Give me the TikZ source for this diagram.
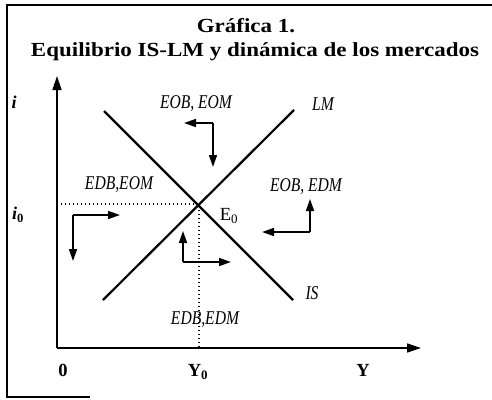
\documentclass[tikz,border=0pt]{standalone}
\usepackage{fontspec}
\setmainfont{Liberation Serif}
\newfontfamily\angosta[FakeStretch=0.8]{Liberation Serif}
\newfontfamily\ancha[FakeStretch=1.15]{Liberation Serif}
\usepackage{tikz}
\usetikzlibrary{arrows.meta}

\tikzset{
  etiq/.style={font=\angosta\fontsize{19.5}{22}\selectfont\itshape, inner sep=0pt},
  rotulo/.style={font=\fontsize{18.5}{21}\selectfont, inner sep=0pt},
  titulo/.style={font=\ancha\fontsize{20}{23}\selectfont\bfseries, inner sep=0pt},
  eje/.style={line width=1.6pt, -{Triangle[length=14pt,width=9pt]}},
  curva/.style={line width=2.2pt},
  flecha/.style={line width=1.6pt, -{Triangle[length=12pt,width=8pt]}},
  guia/.style={line width=1.3pt, dash pattern=on 1.3pt off 2.7pt},
}

\begin{document}
\begin{tikzpicture}[x=1pt,y=-1pt]
				\useasboundingbox (0,0) rectangle (492,399);
				% Marco
				\draw[line width=1.2pt] (90,397) -- (7,397) -- (7,5) -- (492,5);
				
				% Titulo
				\node[titulo] (tit1) at (246,26) {Gráfica 1.};
				\node[titulo] (tit2) at (255,52) {Equilibrio IS-LM y dinámica de los mercados};
				
				% Ejes
				\coordinate (orig) at (57,348);
				\coordinate (ytop) at (57,76);
				\coordinate (xfin) at (421,348);
				\draw[eje] (orig) -- (ytop);
				\draw[eje] (orig) -- (xfin);
				
				% Curvas IS y LM
				\coordinate (eq) at (199,204);
				\coordinate (lmA) at (103,300);
				\coordinate (lmB) at (294,110);
				\coordinate (isA) at (104,111);
				\coordinate (isB) at (293,300);
				\draw[curva] (lmA) -- (lmB);
				\draw[curva] (isA) -- (isB);
				
				% Lineas de equilibrio
				\draw[guia] (orig |- eq) -- (eq) -- (eq |- orig);
				
				% Etiquetas de ejes
				\node[rotulo, font=\fontsize{18}{20}\selectfont\bfseries\itshape] (ii) at (14,102) {i};
				\node[rotulo, font=\fontsize{18}{20}\selectfont\bfseries\itshape] (ii0) at (18,215) {i\textsubscript{\upshape 0}};
				\node[rotulo, font=\fontsize{18.5}{21}\selectfont\bfseries] (cero) at (63,370) {0};
				\node[rotulo, font=\fontsize{18.5}{21}\selectfont\bfseries] (yy0) at (198,372) {Y\textsubscript{0}};
				\node[rotulo, font=\fontsize{18.5}{21}\selectfont\bfseries] (yy) at (363,370) {Y};
				
				% Etiquetas de curvas y zonas
				\node[etiq] (lm) at (323,104) {LM};
				\node[etiq] (is) at (312,293) {IS};
				\node[rotulo] (e0) at (229,216) {E\textsubscript{0}};
				\node[etiq] (z1) at (196,104) {EOB, EOM};
				\node[etiq] (z2) at (119,185) {EDB,EOM};
				\node[etiq] (z3) at (306,187) {EOB, EDM};
				\node[etiq] (z4) at (205,320) {EDB,EDM};
				
				% Flechas de ajuste
				\coordinate (c1) at (213,123);
				\coordinate (c1h) at (184,123);
				\coordinate (c1v) at (213,167);
				\draw[flecha] (c1) -- (c1h);
				\draw[flecha] (c1) -- (c1v);
				
				\coordinate (c2) at (73,215);
				\coordinate (c2h) at (120,215);
				\coordinate (c2v) at (73,261);
				\draw[flecha] (c2) -- (c2h);
				\draw[flecha] (c2) -- (c2v);
				
				\coordinate (c3) at (183,262);
				\coordinate (c3h) at (231,262);
				\coordinate (c3v) at (183,231);
				\draw[flecha] (c3) -- (c3h);
				\draw[flecha] (c3) -- (c3v);
				
				\coordinate (c4) at (310,232);
				\coordinate (c4h) at (262,232);
				\coordinate (c4v) at (310,199);
				\draw[flecha] (c4) -- (c4h);
				\draw[flecha] (c4) -- (c4v);
\end{tikzpicture}
\end{document}
